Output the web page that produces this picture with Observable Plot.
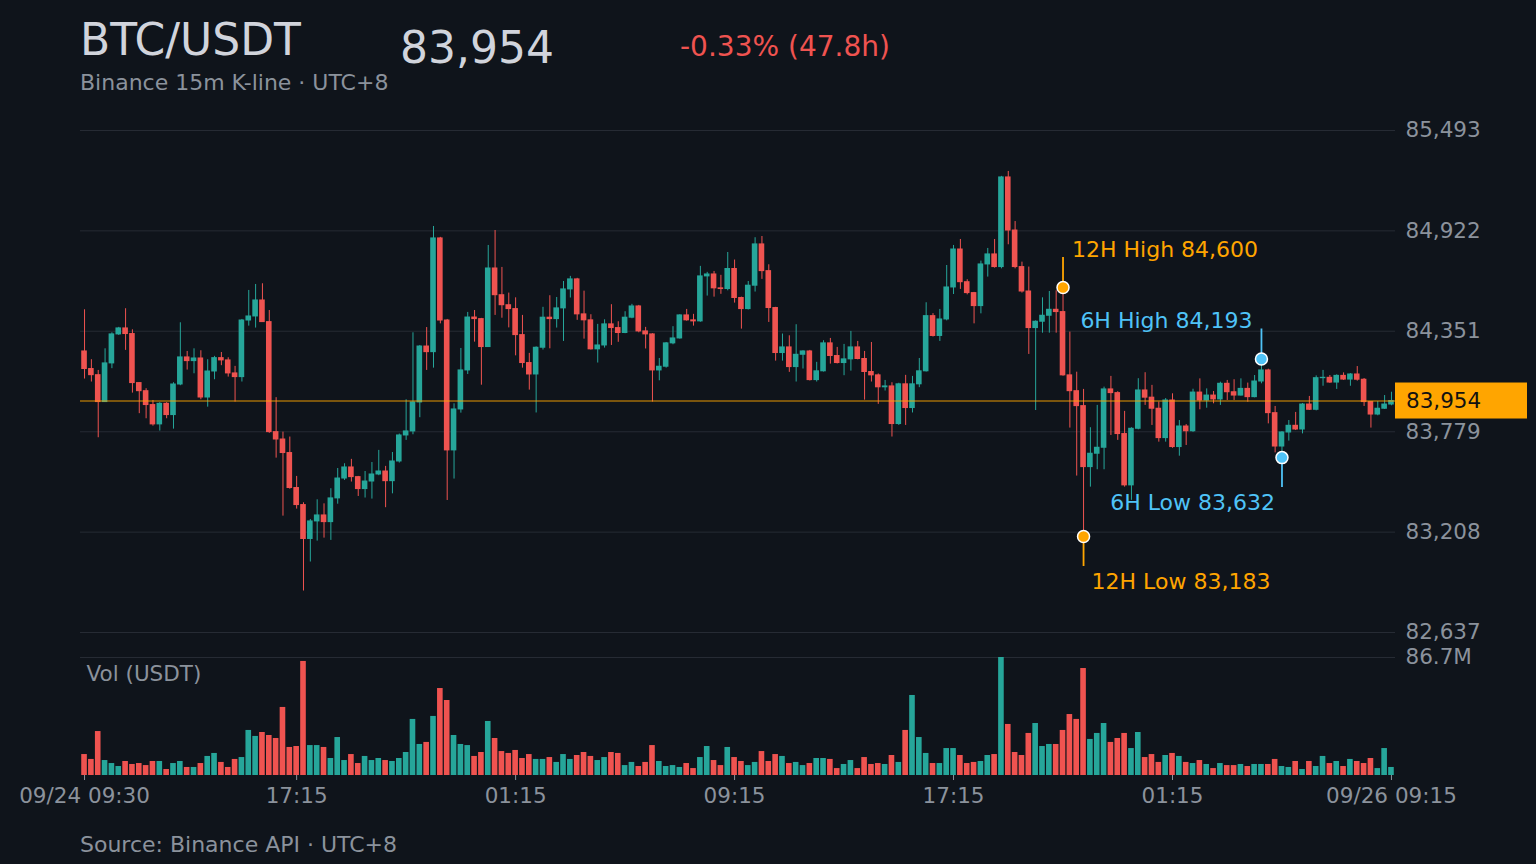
<!DOCTYPE html>
<html><head><meta charset="utf-8">
<script src="https://cdn.jsdelivr.net/npm/d3@7"></script>
<script src="https://cdn.jsdelivr.net/npm/@observablehq/plot@0.6"></script>
<style>
html,body{margin:0;padding:0;background:#0f141b;}
#root{position:relative;width:1536px;height:864px;overflow:hidden;background:#0f141b;font-family:"DejaVu Sans",sans-serif;}
.t{position:absolute;white-space:nowrap;line-height:1;}
#price,#vol{position:absolute;left:0;width:1536px;}
#price{top:100px;}
#vol{top:640px;}
</style></head>
<body><div id="root">
<div class="t" style="left:80px;top:18px;font-size:44px;color:#d1d4dc">BTC/USDT</div>
<div class="t" id="last" style="left:400px;top:26px;font-size:44px;color:#d1d4dc"></div>
<div class="t" id="chg" style="left:680px;top:33px;font-size:28px;color:#ef5350"></div>
<div class="t" style="left:80px;top:72px;font-size:22px;color:#8b929c">Binance 15m K-line · UTC+8</div>
<div id="price"></div>
<div id="vol"></div>
<div class="t" style="left:80px;top:834px;font-size:22px;color:#8b929c">Source: Binance API · UTC+8</div>
</div>
<script>
// ---- data (15m candles, 09/24 09:30 → 09/26 09:15, UTC+8) ----
const firstOpen = 84236;
const closes = [84136,84101,83948,84168,84333,84367,84335,84056,84010,83931,
83821,83938,83874,84048,84202,84181,84196,83974,84122,84198,
84185,84111,84090,84412,84435,84526,84403,83777,83735,83658,
83459,83362,83169,83269,83303,83265,83400,83513,83576,83521,
83453,83496,83536,83553,83498,83610,83758,83781,83946,84264,
84232,84879,84412,83673,83906,84128,84429,84420,84261,84708,
84556,84499,84477,84329,84170,84105,84257,84428,84420,84481,
84589,84646,84447,84413,84248,84270,84390,84369,84341,84428,
84492,84350,84333,84128,84149,84282,84310,84441,84413,84407,
84663,84674,84595,84591,84705,84540,84477,84610,84845,84693,
84483,84227,84259,84147,84217,84236,84073,84123,84282,84210,
84170,84191,84259,84193,84119,84100,84032,84037,83823,84049,
83914,84049,84123,84437,84324,84418,84600,84816,84630,84568,
84494,84731,84788,84716,85226,84924,84716,84577,84369,84405,
84439,84473,84460,84100,84010,83925,83578,83654,83688,84020,
83999,83766,83474,83796,84014,83973,83910,83743,83957,83692,
83809,83782,84002,83957,83985,83963,84052,84004,83985,84023,
83976,84065,84128,83885,83695,83775,83813,83792,83934,83904,
84084,84086,84059,84097,84076,84105,84075,83948,83877,83910,
83934,83954];
const highs = [84473,84189,84128,84251,84342,84373,84479,84359,84058,84024,
83957,83945,83945,84058,84399,84236,84251,84240,84189,84208,
84230,84200,84151,84418,84583,84617,84621,84469,83973,83777,
83749,83525,83375,83280,83392,83369,83455,83570,83597,83622,
83525,83553,83604,83673,83582,83661,83766,83961,84342,84270,
84372,84947,84885,84418,83938,84253,84458,84469,84424,84839,
84924,84714,84568,84541,84441,84225,84262,84487,84553,84543,
84634,84663,84652,84579,84445,84390,84416,84502,84405,84462,
84504,84498,84373,84337,84196,84287,84377,84445,84475,84447,
84720,84686,84691,84669,84799,84756,84545,84634,84883,84890,
84729,84487,84335,84325,84388,84240,84242,84174,84297,84310,
84259,84276,84350,84293,84236,84287,84108,84071,84058,84055,
84100,84094,84196,84513,84451,84475,84725,84839,84873,84644,
84572,84750,84822,84873,85232,85260,84975,84744,84716,84410,
84541,84577,84581,84600,84346,84118,84020,83802,83929,84033,
84094,84007,83895,83802,84081,84115,84043,83948,83968,83995,
83843,83820,84021,84080,84023,84008,84061,84071,84075,84080,
84056,84099,84193,84135,83923,83780,83843,83889,83940,83980,
84097,84128,84099,84103,84114,84110,84150,84082,83951,83951,
83985,84004];
const lows = [84079,84062,83745,83948,84138,84327,84242,83999,83882,83853,
83811,83783,83853,83794,84041,84130,84109,83961,83919,84075,
84155,84090,83948,84062,84380,84369,84403,83770,83629,83299,
83452,83339,82873,83038,83157,83174,83161,83367,83502,83493,
83411,83402,83396,83529,83347,83426,83601,83730,83762,83859,
84128,84141,84393,83388,83510,83885,84105,84289,84044,84261,
84441,84425,84370,84211,84141,84016,83886,84244,84251,84369,
84293,84540,84413,84306,84244,84170,84255,84270,84288,84337,
84422,84342,84250,83948,84069,84141,84274,84306,84408,84380,
84402,84551,84545,84561,84581,84511,84363,84472,84574,84646,
84401,84181,84181,84117,84062,84136,84068,84062,84119,84164,
84165,84098,84124,84188,83959,84062,83935,84011,83749,83815,
83815,83886,84030,84119,84318,84293,84410,84560,84589,84558,
84393,84450,84659,84710,84706,84843,84706,84568,84219,83900,
84340,84340,84340,84095,83800,83527,83183,83464,83563,83563,
83758,83730,83464,83389,83790,83929,83815,83720,83720,83685,
83640,83701,83776,83904,83913,83938,83929,83957,83957,83982,
83947,83972,84052,83824,83659,83632,83726,83786,83767,83900,
83898,84038,84054,84020,84071,84038,84067,83923,83800,83870,
83906,83927];
const volM = [15.4,11.8,32.3,11.0,8.8,6.6,10.3,8.1,8.8,7.3,
10.3,10.3,4.4,8.8,10.3,5.9,5.9,8.8,14.0,16.2,
9.6,5.9,11.8,13.2,33.1,28.7,31.6,29.4,27.2,50.0,
20.6,21.3,83.8,22.0,22.0,20.6,12.5,27.9,11.0,15.4,
8.8,14.0,11.0,12.5,11.0,10.3,12.5,16.9,41.2,22.8,
24.3,43.4,63.9,55.1,29.4,22.8,22.0,14.0,16.9,39.7,
27.2,17.6,16.2,18.4,12.5,15.4,11.8,11.8,13.2,9.6,
15.4,11.8,14.7,16.9,14.0,11.0,13.2,16.9,16.2,7.3,
9.6,6.6,9.6,22.0,10.3,6.6,7.3,5.9,8.8,5.1,
13.2,21.3,11.0,7.3,20.6,13.2,10.3,7.3,9.6,17.6,
10.3,15.4,14.0,8.8,9.6,7.3,8.8,12.5,12.5,11.8,
5.1,8.1,11.0,5.1,13.2,8.1,8.8,8.1,14.7,9.6,
33.1,58.8,27.9,16.2,8.8,8.8,19.8,19.8,14.7,8.8,
9.6,10.3,14.7,15.4,86.7,37.5,16.9,14.7,30.9,38.2,
21.3,22.8,22.8,33.1,44.8,41.2,78.6,26.5,30.9,38.2,
24.3,27.2,30.9,19.8,31.6,13.2,15.4,9.6,14.7,16.2,
14.0,9.6,8.8,11.0,8.1,5.1,8.8,7.3,7.3,8.1,
6.6,8.1,8.1,8.1,11.8,6.6,5.9,10.3,4.4,10.3,
6.6,14.0,8.8,10.3,6.6,11.8,10.3,8.8,12.5,5.1,
19.8,5.9];
const yTicks = [82637, 83208, 83779, 84351, 84922, 85493];
const xTickIdx = [0, 31, 63, 95, 127, 159, 191];
const xTickLabels = ["09/24 09:30", "17:15", "01:15", "09:15", "17:15", "01:15", "09/26 09:15"];
const intervalMin = 15;

// ---- style ----
const UP = "#26a69a", DOWN = "#ef5350", GRID = "#262b34", AXIS = "#8b929c";
const ORANGE = "#ffa500", BLUE = "#4fc3f7";
const FONT = "21.5px", LABEL_FONT = "22px";
const N = closes.length;
const fmt = d3.format(",.0f");

const rows = closes.map((c, i) => {
  const o = i ? closes[i - 1] : firstOpen;
  return {i, open: o, close: c, high: Math.max(highs[i], o, c), low: Math.min(lows[i], o, c), vol: volM[i], color: c >= o ? UP : DOWN};
});
const last = closes[N - 1];
const chg = (last / firstOpen - 1) * 100;
const hours = (N - 1) * intervalMin / 60;
document.getElementById("last").textContent = fmt(last);
const chgEl = document.getElementById("chg");
chgEl.textContent = (chg >= 0 ? "+" : "") + chg.toFixed(2) + "% (" + hours.toFixed(1) + "h)";
chgEl.style.color = chg >= 0 ? UP : DOWN;

function extreme(h, kind) {
  const from = (N - 1) - h * 60 / intervalMin;
  let best = rows[from];
  for (let k = from; k < N; k++) {
    const r = rows[k];
    if (kind === "high" ? r.high > best.high : r.low < best.low) best = r;
  }
  return {i: best.i, value: kind === "high" ? best.high : best.low, h, kind};
}
const hiMarks = [extreme(12, "high"), extreme(6, "high")].map(m => ({...m, color: m.h === 12 ? ORANGE : BLUE, label: m.h + "H High " + fmt(m.value)}));
const loMarks = [extreme(12, "low"), extreme(6, "low")].map(m => ({...m, color: m.h === 12 ? ORANGE : BLUE, label: m.h + "H Low " + fmt(m.value)}));

const baseStyle = {background: "transparent", color: AXIS, fontFamily: "DejaVu Sans, sans-serif", fontSize: FONT, overflow: "visible", maxWidth: "none"};
const W = 1536, ML = 80, MR = 141;

const price = Plot.plot({
  width: W, height: 540, marginTop: 30, marginBottom: 8, marginLeft: ML, marginRight: MR,
  style: baseStyle,
  x: {type: "band", domain: d3.range(N), padding: 0.18, axis: null},
  y: {domain: [yTicks[0], yTicks[yTicks.length - 1]]},
  color: {type: "identity"},
  marks: [
    Plot.ruleY(yTicks, {stroke: GRID, strokeWidth: 1}),
    Plot.axisY({ticks: yTicks, anchor: "right", tickSize: 0, tickPadding: 10, tickFormat: fmt, label: null}),
    Plot.ruleX(rows, {x: "i", y1: "low", y2: "high", stroke: "color", strokeWidth: 1}),
    Plot.barY(rows, {x: "i", y1: "open", y2: "close", fill: "color", insetTop: -0.5, insetBottom: -0.5}),
    Plot.ruleY([last], {stroke: ORANGE, strokeWidth: 1, strokeOpacity: 0.9}),
    Plot.ruleX(hiMarks, {x: "i", y1: "value", y2: "value", stroke: "color", strokeWidth: 1.8, insetTop: -30}),
    Plot.ruleX(loMarks, {x: "i", y1: "value", y2: "value", stroke: "color", strokeWidth: 1.8, insetBottom: -30}),
    Plot.dot(hiMarks.concat(loMarks), {x: "i", y: "value", r: 6, fill: "color", stroke: "white", strokeWidth: 1.5}),
    Plot.text(hiMarks.filter(m => m.h === 12), {x: "i", y: "value", text: "label", fill: "color", textAnchor: "start", dx: 9, dy: -38, fontSize: LABEL_FONT}),
    Plot.text(hiMarks.filter(m => m.h === 6), {x: "i", y: "value", text: "label", fill: "color", textAnchor: "end", dx: -9, dy: -38, fontSize: LABEL_FONT}),
    Plot.text(loMarks.filter(m => m.h === 12), {x: "i", y: "value", text: "label", fill: "color", textAnchor: "start", dx: 8, dy: 45, fontSize: LABEL_FONT}),
    Plot.text(loMarks.filter(m => m.h === 6), {x: "i", y: "value", text: "label", fill: "color", textAnchor: "end", dx: -7, dy: 45, fontSize: LABEL_FONT})
  ]
});
// current price tag on the right axis
const yPx = price.scale("y").apply(last);
const tag = d3.select(price).append("g");
tag.append("rect").attr("x", W - MR).attr("y", yPx - 18).attr("width", 132).attr("height", 36).attr("fill", ORANGE);
tag.append("text").attr("x", W - MR + 11).attr("y", yPx).attr("dy", "0.35em").attr("fill", "#111")
  .attr("text-anchor", "start")
  .style("font-size", FONT).style("font-family", "DejaVu Sans, sans-serif").text(fmt(last));
document.getElementById("price").appendChild(price);

const maxVol = d3.max(volM);
const vol = Plot.plot({
  width: W, height: 180, marginTop: 17, marginBottom: 45, marginLeft: ML, marginRight: MR,
  style: baseStyle,
  x: {type: "band", domain: d3.range(N), padding: 0.18},
  y: {domain: [0, maxVol]},
  color: {type: "identity"},
  marks: [
    Plot.ruleY([maxVol], {stroke: GRID, strokeWidth: 1}),
    Plot.barY(rows, {x: "i", y: "vol", fill: "color"}),
    Plot.axisY({ticks: [maxVol], anchor: "right", tickSize: 0, tickPadding: 10, tickFormat: d => d.toFixed(1) + "M", label: null}),
    Plot.axisX({ticks: xTickIdx, anchor: "bottom", tickSize: 5, tickPadding: 7, tickFormat: d => xTickLabels[xTickIdx.indexOf(d)], label: null}),
    Plot.text(["Vol (USDT)"], {frameAnchor: "top-left", text: d => d, dx: 6, dy: 8, fill: AXIS, fontSize: FONT})
  ]
});
document.getElementById("vol").appendChild(vol);
</script>
</body></html>
